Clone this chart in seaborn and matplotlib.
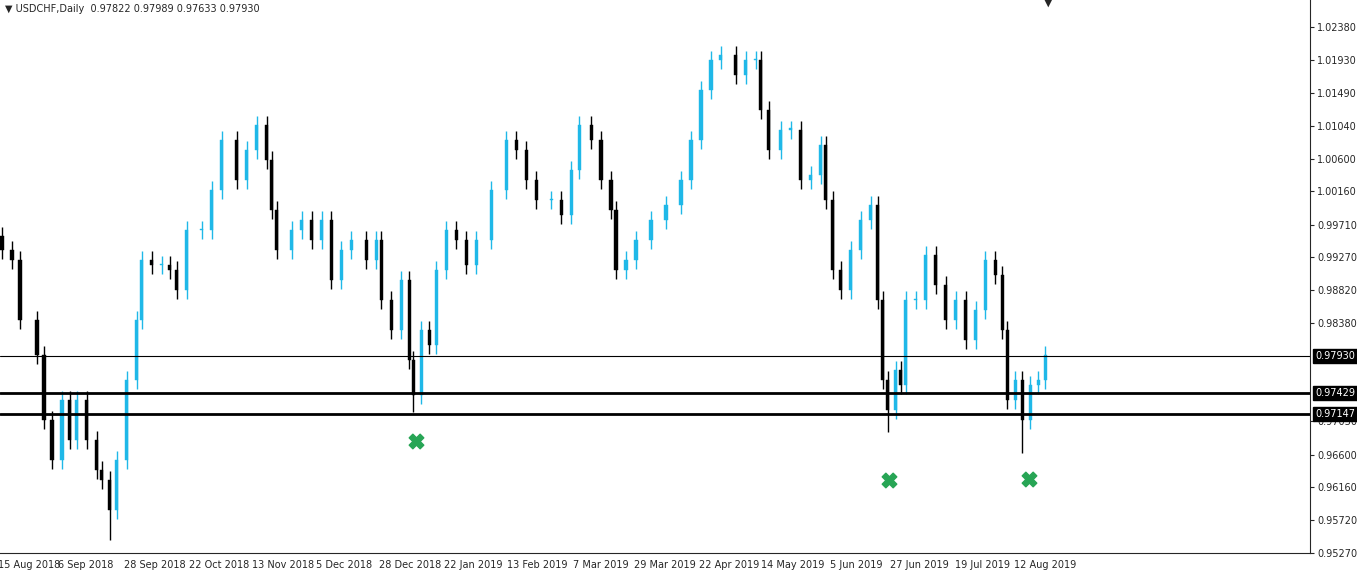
import numpy as np
import matplotlib
matplotlib.use("Agg")
import matplotlib.pyplot as plt
import seaborn as sns

# candle positions (trading-day index) and closing prices
DAYS = [0, 2.5, 4.5, 8.75, 10.5, 12.5, 15, 17, 18.75, 21.25, 23.75, 25, 27, 28.75, 31.25,
        33.75, 35, 37.5, 40, 42, 43.75, 46.25, 50, 52.5, 55, 58.75, 61.25, 63.75, 66.25,
        67.5, 68.75, 72.5, 75, 77.5, 80, 82.5, 85, 87.5, 91.25, 93.75, 95, 97.5, 100, 102,
        103, 105, 107, 108.75, 111.25, 113.75, 116.25, 118.75, 122.5, 126.25, 128.75,
        131.25, 133.75, 137.5, 140, 142.5, 144.5, 147.5, 150, 152.5, 153.75, 156.25,
        158.75, 162.5, 166.25, 170, 172.5, 175, 177.5, 180, 183.75, 186.25, 188.75, 190,
        192, 195, 197.5, 200, 202.5, 205, 206.25, 208, 210, 212.5, 215, 217.5, 219.25,
        220.5, 221.75, 223.75, 225, 226.25, 228.75, 231.25, 233.75, 236.25, 238.75,
        241.25, 243.75, 246.25, 248.75, 250.5, 251.75, 253.75, 255.5, 257.5, 259.5, 261.25]
CLOSES = [0.99365, 0.99230, 0.98419, 0.97946, 0.97067, 0.96526, 0.97338, 0.96797, 0.97338,
          0.96797, 0.96390, 0.96256, 0.95851, 0.96526, 0.97608, 0.98419, 0.99230, 0.99162,
          0.99162, 0.99095, 0.98824, 0.99636, 0.99636, 1.00176, 1.00852, 1.00312, 1.00717,
          1.01055, 1.00582, 0.99906, 0.99365, 0.99636, 0.99771, 0.99500, 0.99771, 0.98959,
          0.99365, 0.99500, 0.99230, 0.99500, 0.98689, 0.98284, 0.98959, 0.97878, 0.97405,
          0.98284, 0.98081, 0.99095, 0.99636, 0.99500, 0.99162, 0.99500, 1.00176, 1.00852,
          1.00717, 1.00312, 1.00041, 1.00041, 0.99838, 1.00447, 1.01055, 1.00852, 1.00312,
          0.99906, 0.99095, 0.99230, 0.99500, 0.99771, 0.99973, 1.00312, 1.00852, 1.01528,
          1.01934, 1.02000, 1.01731, 1.01934, 1.01934, 1.01258, 1.00717, 1.00990, 1.00990,
          1.00312, 1.00380, 1.00785, 1.00041, 0.99095, 0.98824, 0.99365, 0.99771, 0.99973,
          0.98689, 0.97608, 0.97202, 0.97743, 0.97540, 0.98689, 0.98689, 0.99297, 0.98892,
          0.98419, 0.98689, 0.98148, 0.98554, 0.99230, 0.99027, 0.98284, 0.97338, 0.97608,
          0.97067, 0.97540, 0.97608, 0.97946]
FIRST_OPEN = 0.99550
LOW_OVERRIDES = {12: 0.95450, 44: 0.97180, 92: 0.96900, 108: 0.96620}

Y_TICKS = [1.02380, 1.01930, 1.01490, 1.01040, 1.00600, 1.00160, 0.99710, 0.99270,
           0.98820, 0.98380, 0.97050, 0.96600, 0.96160, 0.95720, 0.95270]
DATE_LABELS = ["15 Aug 2018", "6 Sep 2018", "28 Sep 2018", "22 Oct 2018", "13 Nov 2018",
               "5 Dec 2018", "28 Dec 2018", "22 Jan 2019", "13 Feb 2019", "7 Mar 2019",
               "29 Mar 2019", "22 Apr 2019", "14 May 2019", "5 Jun 2019", "27 Jun 2019",
               "19 Jul 2019", "12 Aug 2019"]
DATE_POS = [6.75, 21, 38.25, 54.25, 70.25, 85.75, 102.25, 118, 134, 150, 166, 182, 198,
            214, 229.75, 245.5, 261.25]

LEVELS = [(0.97930, 0.8), (0.97429, 2.0), (0.97147, 2.0)]
MARK_DAYS = [103.75, 222, 257.25]
MARK_PRICES = [0.96783, 0.96256, 0.96270]

BULL = "#1fb8e8"
BEAR = "#000000"

sns.set_style("white")
plt.rcParams["font.family"] = ["DejaVu Sans"]

fig = plt.figure(figsize=(13.57, 5.76), dpi=100)
ax = fig.add_axes([0.0, 0.04, 1310 / 1357, 0.96])

opens = [FIRST_OPEN] + CLOSES[:-1]
for i, (d, o, c) in enumerate(zip(DAYS, opens, CLOSES)):
    col = BULL if c >= o else BEAR
    hi = max(o, c) + 0.0012
    lo = LOW_OVERRIDES.get(i, min(o, c) - 0.0012)
    ax.vlines(d, lo, hi, color=col, lw=1)
    ax.bar(d, max(abs(c - o), 0.0002), bottom=min(o, c), width=0.8,
           color=col, edgecolor=col, lw=0.3)

for lvl, lw in LEVELS:
    ax.axhline(lvl, color="black", lw=lw)

ax.scatter(MARK_DAYS, MARK_PRICES, marker="X", s=110, color="#27a555", zorder=5)

ax.set_xlim(-0.5, 327.5)
ax.set_ylim(0.95270, 1.02745)
ax.yaxis.tick_right()
ax.set_yticks(Y_TICKS)
ax.set_yticklabels([f"{v:.5f}" for v in Y_TICKS], fontsize=7)
ax.set_xticks(DATE_POS)
ax.set_xticklabels(DATE_LABELS, fontsize=7)
ax.tick_params(length=3, pad=2)
for s in ["top", "left"]:
    ax.spines[s].set_visible(False)

tr = ax.get_yaxis_transform()
for lvl, _ in LEVELS:
    ax.text(1.004, lvl, f"{lvl:.5f}", transform=tr, fontsize=7, va="center", ha="left",
            color="white", bbox=dict(boxstyle="square,pad=0.2", fc="black", ec="black"),
            clip_on=False, zorder=10)

fig.text(0.004, 0.985, "\u25bc USDCHF,Daily  0.97822 0.97989 0.97633 0.97930",
         fontsize=7, va="center", ha="left")
fig.text(1048 / 1357, 0.995, "\u25bc", fontsize=8, ha="center", va="center")

fig.savefig("out.png", dpi=100)
